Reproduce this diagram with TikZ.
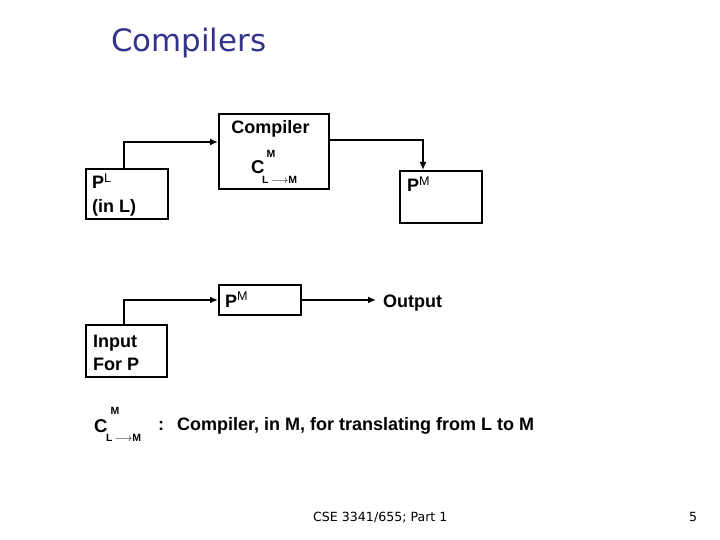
\documentclass[tikz,border=0pt]{standalone}
\usepackage{fontspec}
\setmainfont{Liberation Sans}
\newfontfamily\tahoma{DejaVu Sans}
\usetikzlibrary{arrows.meta}
\definecolor{titleblue}{RGB}{51,51,140}
\begin{document}
\begin{tikzpicture}[x=1pt,y=-1pt,
  box/.style={draw,line width=1.9pt,anchor=north west,inner sep=0pt},
  lbl/.style={font=\fontsize{18}{23}\selectfont\bfseries,inner sep=0pt,anchor=base west},
  small/.style={font=\fontsize{10.5}{11}\selectfont\bfseries,inner sep=0pt},
  big/.style={font=\fontsize{18.5}{20}\selectfont\bfseries,inner sep=0pt,anchor=base west},
  foot/.style={font=\tahoma\fontsize{12.6}{14}\selectfont,inner sep=0pt,anchor=base west},
  conn/.style={line width=1.9pt,-{Latex[length=8pt,width=7pt]}},
]
\useasboundingbox (0,0) rectangle (720,540);
\node[font=\tahoma\fontsize{30.9}{36}\selectfont,text=titleblue,anchor=base west,inner sep=0pt] (title) at (111,52) {Compilers};

% boxes
\node[box,minimum width=110pt,minimum height=75pt] (comp) at (218,113) {};
\node[box,minimum width=82pt,minimum height=50pt] (pl) at (85,168) {};
\node[box,minimum width=82pt,minimum height=52pt] (pm1) at (399,170) {};
\node[box,minimum width=82pt,minimum height=30pt] (pm2) at (218,284) {};
\node[box,minimum width=81pt,minimum height=52pt] (inp) at (85,324) {};

% texts in boxes
\node[lbl,anchor=base] (compt) at (270.5,134) {Compiler};
\node[big] (c1) at (251,174) {C};
\node[small] (c1m) at (271,154) {M};
\node[small,anchor=base west] (c1s) at (262,184) {L\hspace{2pt}$\longrightarrow$M};

\node[lbl] (plt1) at (92,189) {P\textsuperscript{\mdseries L}};
\node[lbl] (plt2) at (92,212) {(in L)};
\node[lbl] (pm1t) at (407,192) {P\textsuperscript{\mdseries M}};
\node[lbl] (pm2t) at (225,307) {P\textsuperscript{\mdseries M}};
\node[lbl] (inp1) at (93,347) {Input};
\node[lbl] (inp2) at (93,370) {For P};
\node[lbl] (out) at (383,307) {Output};

% connectors
\draw[conn] ([xshift=39pt]pl.north west) |- ([yshift=-29pt]comp.north west);
\draw[conn] ([yshift=-27pt]comp.north east) -| ([xshift=24pt]pm1.north west);
\draw[conn] ([xshift=39pt]inp.north west) |- (pm2.west);
\draw[conn] (pm2.east) -- ([xshift=-7pt]out.west |- pm2.east);

% legend
\node[big] (c2) at (94,432) {C};
\node[small] (c2m) at (115,411) {M};
\node[small,anchor=base west] (c2s) at (106,441) {L\hspace{2pt}$\longrightarrow$M};
\node[lbl] (colon) at (158,430) {:};
\node[lbl] (legend) at (177,430) {Compiler, in M, for translating from L to M};

% footer
\node[foot] (f1) at (313,521) {CSE 3341/655; Part 1};
\node[foot] (f2) at (689,521) {5};
\end{tikzpicture}
\end{document}
